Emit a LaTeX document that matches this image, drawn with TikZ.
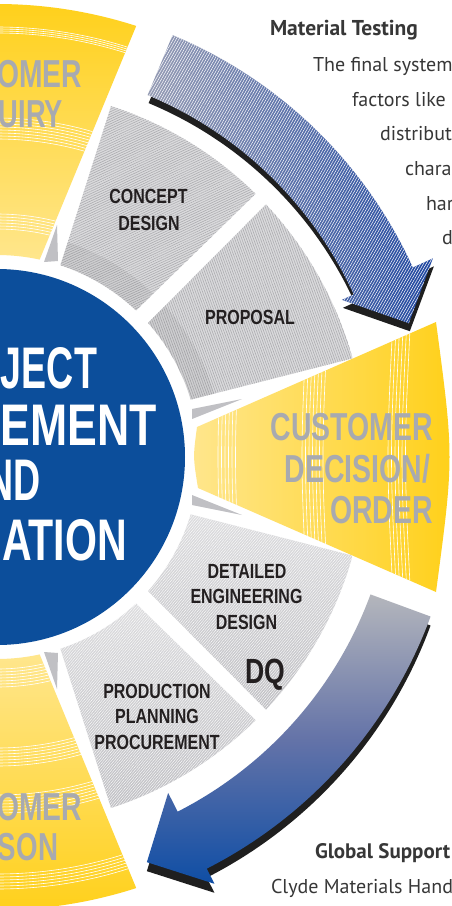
\documentclass[tikz,border=0pt]{standalone}
\usepackage{fontspec}
\usetikzlibrary{patterns.meta}
\newfontfamily\condfont{Liberation Sans}
\newfontfamily\ptfont{PT Sans}
\definecolor{cblue}{RGB}{12,78,155}
\definecolor{ylight}{RGB}{255,230,140}
\definecolor{ydark}{RGB}{255,208,25}
\definecolor{segfill}{RGB}{218,218,220}
\definecolor{seglines}{RGB}{172,172,176}
\definecolor{segtop}{RGB}{220,220,222}
\definecolor{segbot}{RGB}{192,192,196}
\definecolor{biggray}{RGB}{168,170,176}
\definecolor{labelblack}{RGB}{35,31,32}
\definecolor{paratext}{RGB}{55,55,55}
\definecolor{arrgray}{RGB}{150,156,180}
\definecolor{arrblue}{RGB}{30,70,160}
\definecolor{arrtop}{RGB}{180,182,188}
\definecolor{arrmid}{RGB}{100,115,168}
\definecolor{arrbot}{RGB}{15,78,165}
\def\segConcept{(-71.7:202) -- (-72:369) arc[start angle=-72, end angle=-45.5, radius=369] -- (-46.5:202) arc[start angle=-46.5, end angle=-71.7, radius=202] -- cycle}
\def\segProposal{(-41.6:202) -- (-43.2:369) arc[start angle=-43.2, end angle=-15.5, radius=369] -- (-16.5:202) arc[start angle=-16.5, end angle=-41.6, radius=202] -- cycle}
\def\segDetail{(16.5:202) -- (15.5:369) arc[start angle=15.5, end angle=43.2, radius=369] -- (41.6:202) arc[start angle=41.6, end angle=16.5, radius=202] -- cycle}
\def\segProd{(46.5:202) -- (45.5:369) arc[start angle=45.5, end angle=72, radius=369] -- (71.7:202) arc[start angle=71.7, end angle=46.5, radius=202] -- cycle}
\def\segInq{(-77.8:202) -- (-72.1:453) arc[start angle=-72.1, end angle=-100, radius=453] -- (-100:202) arc[start angle=-100, end angle=-77.8, radius=202] -- cycle}
\def\segLia{(77.8:202) -- (72.1:453) arc[start angle=72.1, end angle=100, radius=453] -- (100:202) arc[start angle=100, end angle=77.8, radius=202] -- cycle}
\def\segDec{(197,427) -- (436,322) .. controls (454,457) .. (436,592) -- (198,488) .. controls (193,457) .. (197,427) -- cycle}
\def\arrTop{(-67.4:457) arc[start angle=-67.4, end angle=-24.5, radius=457] -- (-24.5:479) -- (-18:433) -- (-24.5:379) -- (-24.5:392) arc[start angle=-24.5, end angle=-67.4, radius=392] -- cycle}
\def\arrBot{(20.2:462) arc[start angle=20.2, end angle=63, radius=462] -- (63:479) -- (69.7:432) -- (63:377) -- (63:398) arc[start angle=63, end angle=20.2, radius=398] -- cycle}
\begin{document}
\begin{tikzpicture}[x=1pt,y=-1pt,
  lbl/.style={inner sep=0pt, outer sep=0pt, anchor=base, text=labelblack, font=\condfont\bfseries\fontsize{20.5}{20.5}\selectfont, xscale=0.78},
  biglbl/.style={inner sep=0pt, outer sep=0pt, anchor=base east, text=biggray, font=\condfont\bfseries\fontsize{39}{39}\selectfont, xscale=0.73},
  ctrlbl/.style={inner sep=0pt, outer sep=0pt, anchor=base east, text=white, font=\condfont\bfseries\fontsize{58.7}{58.7}\selectfont},
  para/.style={inner sep=0pt, outer sep=0pt, anchor=base west, text=paratext, font=\ptfont\fontsize{20}{20}\selectfont},
  parahead/.style={inner sep=0pt, outer sep=0pt, anchor=base west, text=paratext, font=\ptfont\bfseries\fontsize{21.5}{21.5}\selectfont},
  band/.style={white, line width=0.6}
]
\useasboundingbox (0,0) rectangle (452,906);
\clip (0,0) rectangle (452,906);
\fill[white] (0,0) rectangle (452,906);

\begin{scope}[shift={(-3,457)}]
  % centre disc
  \fill[cblue] (0,0) circle[radius=188];
  % grey ring segments (upper)
  \foreach \s/\a in {\segConcept/25,\segProposal/-70}{
    \path[fill=segfill, postaction={pattern={Lines[angle=\a,distance=2.2pt,line width=0.6pt]}, pattern color=seglines}] \s;
    \begin{scope}
      \clip \s;
      \fill[black, opacity=0.05] (0,0) circle[radius=226];
    \end{scope}
  }
  % grey ring segments (lower)
  \foreach \s in {\segDetail,\segProd}{
    \path[top color=segtop, bottom color=segbot, postaction={pattern={Lines[angle=50,distance=2pt,line width=0.4pt]}, pattern color=white}] \s;
  }
  % yellow wedges left
  \path[top color=ydark, bottom color=ylight] \segInq;
  \begin{scope}
    \clip \segInq;
    \foreach \r in {424,426,428,430, 318,321,324,327,330,333,336,339, 228,231,234,237,240,243}
      \draw[band] (0,0) circle[radius=\r];
  \end{scope}
  \path[top color=ylight, bottom color=ydark] \segLia;
  \begin{scope}
    \clip \segLia;
    \foreach \r in {212,215,218,221,224,227,230, 291,294,297,300,303,306,309, 338,341,344,347,350,353,356, 417,420,423,426,429,432}
      \draw[band] (0,0) circle[radius=\r];
  \end{scope}
  % arrows
  \fill[black!88, shift={(1,8)}] \arrTop;
  \path[left color=arrgray, right color=arrblue, postaction={pattern={Lines[angle=60,distance=2.4pt,line width=0.5pt]}, pattern color=white}] \arrTop;
  \fill[black!88, shift={(0,9)}] \arrBot;
  \path[top color=arrtop, bottom color=arrbot, middle color=arrmid] \arrBot;
\end{scope}

% slivers
\fill[segbot] (44,262) -- (58,261) -- (57,225) -- cycle;
\fill[segbot] (44,652) -- (58,653) -- (57,689) -- cycle;
\fill[segbot] (192,409) -- (242,399) -- (192,419) -- cycle;
\fill[segbot] (192,505) -- (242,515) -- (192,495) -- cycle;

% customer decision wedge
\path[left color=ylight, right color=ydark] \segDec;
\begin{scope}
  \clip \segDec;
  \foreach \bx in {220,223.5,227,230.5,234,237.5, 304,307.5,311,314.5,318,321.5,325, 390,393.5,397,400.5,404,407.5}
    \draw[band] (\bx+4,300) .. controls (\bx-4,457) .. (\bx+4,614);
\end{scope}

% centre text
\node[ctrlbl, xscale=0.64] (t1) at (97,388) {OJECT};
\node[ctrlbl, xscale=0.76] (t2) at (157,445) {EMENT};
\node[ctrlbl, xscale=0.64] (t3) at (41,500) {ND};
\node[ctrlbl, xscale=0.70] (t4) at (127,560) {ATION};

% big grey labels
\node[biglbl, xscale=0.725/0.73] (q1) at (82,87) {OMER};
\node[biglbl, xscale=0.70/0.73] (q2) at (63,127) {UIRY};
\node[biglbl, xscale=0.725/0.73] (l1) at (82,820) {OMER};
\node[biglbl, xscale=0.71/0.73] (l2) at (58,860) {SON};
\node[biglbl] (d1) at (433,440) {CUSTOMER};
\node[biglbl] (d2) at (430,482) {DECISION/};
\node[biglbl] (d3) at (433,523) {ORDER};

% segment labels
\node[lbl] (c1) at (148.5,203) {CONCEPT};
\node[lbl] (c2) at (149,230) {DESIGN};
\node[lbl] (p1) at (250,324) {PROPOSAL};
\node[lbl] (e1) at (247,578) {DETAILED};
\node[lbl] (e2) at (246.5,603) {ENGINEERING};
\node[lbl] (e3) at (246.5,629) {DESIGN};
\node[lbl, anchor=base east, font=\condfont\bfseries\fontsize{35}{35}\selectfont, xscale=0.76/0.78] (dq) at (285,683) {DQ};
\node[lbl] (r1) at (157,698) {PRODUCTION};
\node[lbl] (r2) at (157,723) {PLANNING};
\node[lbl] (r3) at (157,749) {PROCUREMENT};

% side text
\node[parahead] (mt) at (270,35) {Material Testing};
\node[para] (m1) at (313,71) {The final system};
\node[para] (m2) at (352,106) {factors like};
\node[para] (m3) at (380,140) {distribut};
\node[para] (m4) at (405,175) {chara};
\node[para] (m5) at (426,210) {har};
\node[para] (m6) at (442,244) {d};
\node[parahead, font=\ptfont\bfseries\fontsize{21}{21}\selectfont] (gs) at (315,858) {Global Support};
\node[para] (g1) at (271,893) {Clyde Materials Hand};
\end{tikzpicture}
\end{document}
